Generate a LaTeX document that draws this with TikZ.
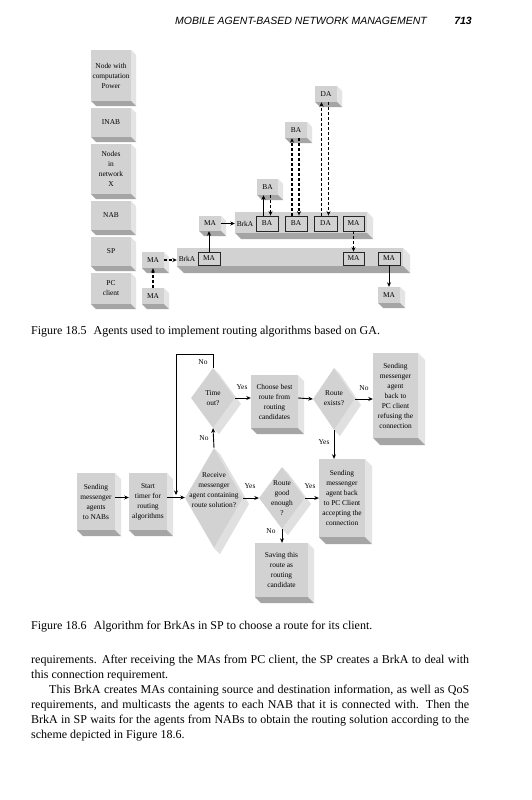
\documentclass[tikz,border=0pt]{standalone}
\usepackage{fontspec}
\setmainfont{Liberation Serif}
\setsansfont{Liberation Sans}
\usetikzlibrary{arrows.meta,shapes.geometric,calc}
\definecolor{facec}{RGB}{210,210,210}
\definecolor{sidec}{RGB}{228,228,228}
\definecolor{botc}{RGB}{165,165,165}
\definecolor{dext}{RGB}{224,224,224}
\tikzset{
  diag/.style={font=\fontsize{7.4}{10}\selectfont, align=center, inner sep=0pt},
  facen/.style={diag, fill=facec, draw=none},
  inbox/.style={diag, fill=facec, draw=black!85, line width=0.8pt},
  dia/.style={diamond, fill=facec, draw=none, inner sep=0pt, aspect=1},
  sar/.style={line width=0.9pt, -{Stealth[length=4.5pt,width=4pt]}},
  dar/.style={line width=1.1pt, dash pattern=on 3pt off 2pt, -{Stealth[length=4.5pt,width=4pt]}},
  lbl/.style={diag},
  body/.style={anchor=base west, inner sep=0pt, font=\fontsize{12}{15}\selectfont},
}
% 3D box: name, x1, y1, x2, y2, (unused), text, depth
\newcommand\namedbox[8]{%
  \fill[sidec] (#4,#3) -- ++(#8,#8) -- (#4+#8,#5+#8) -- (#4,#5) -- cycle;
  \fill[botc] (#2,#5) -- (#4,#5) -- (#4+#8,#5+#8) -- (#2+#8,#5+#8) -- cycle;
  \node[facen, minimum width={#4-#2}, minimum height={#5-#3}] (#1) at ({(#2+#4)/2},{(#3+#5)/2}) {#6#7};}
\newcommand\inb[6]{%
  \node[inbox, minimum width={#4-#2}, minimum height={#5-#3}] (#1) at ({(#2+#4)/2},{(#3+#5)/2}) {#6};}
% diamond: name, cx, cy, w, h, depth
\newcommand\dian[6]{%
  \fill[dext] (#2,#3-#5/2) -- ++(#6,#6) -- (#2+#4/2+#6,#3+#6) -- (#2+#6,#3+#5/2+#6) -- (#2,#3+#5/2) -- (#2+#4/2,#3) -- cycle;
  \node[dia, minimum width=#4, minimum height=#5] (#1) at (#2,#3) {};}
\begin{document}
\begin{tikzpicture}[x=1pt,y=-1pt]
\useasboundingbox (0,0) rectangle (531,800);
\fill[white] (0,0) rectangle (531,800);
% header
\node[anchor=base east, inner sep=0pt, font=\sffamily\itshape\fontsize{10.5}{12}\selectfont] (hdr) at (427,25) {MOBILE AGENT-BASED NETWORK MANAGEMENT};
\node[anchor=base east, inner sep=0pt, font=\sffamily\bfseries\itshape\fontsize{10.5}{12}\selectfont] (pg) at (472,25) {713};

% ---------- Figure 18.5 ----------
\namedbox{c1}{91}{50}{131}{101}{}{Node with\\computation\\Power}{5}
\namedbox{c2}{91}{108}{131}{137}{}{INAB}{5}
\namedbox{c3}{91}{144}{131}{194}{}{Nodes\\in\\network\\X}{5}
\namedbox{c4}{91}{201}{131}{230}{}{NAB}{5}
\namedbox{c5}{91}{237}{131}{266}{}{SP}{5}
\namedbox{c6}{91}{273}{131}{304}{}{PC\\client}{5}

\namedbox{masp}{142}{252}{164}{268}{}{MA}{5}
\namedbox{mapc}{142}{288}{164}{304}{}{MA}{5}
\namedbox{lbar}{177}{248}{403}{266}{}{}{7}
\namedbox{ubar}{235}{212}{367}{233}{}{}{6}
\namedbox{maup}{199}{216}{221}{231}{}{MA}{5}
\namedbox{balow}{257}{179}{278}{195}{}{BA}{5}
\namedbox{bamid}{285}{122}{307}{138}{}{BA}{5}
\namedbox{datop}{315}{86}{337}{102}{}{DA}{5}
\namedbox{maout}{378}{287}{400}{303}{}{MA}{5}

\inb{mab1}{198}{252}{220}{265}{MA}
\inb{mab2}{343}{252}{364}{265}{MA}
\inb{mab3}{378}{252}{400}{265}{MA}
\inb{bab1}{256}{216}{278}{231}{BA}
\inb{bab2}{285}{216}{307}{231}{BA}
\inb{dab}{314}{216}{337}{231}{DA}
\inb{mab4}{343}{216}{364}{231}{MA}
\node[lbl] (brk1) at (187,259) {BrkA};
\node[lbl] (brk2) at (245,224) {BrkA};

\draw[dar] (mapc.north) -- (masp.south);
\draw[dar] (masp.east) -- (masp.east -| lbar.west);
\draw[sar] (mab1.north) -- (mab1.north |- maup.south);
\draw[sar] (maup.east) -- (maup.east -| ubar.west);
\draw[sar] ([xshift=-3.5pt]bab1.north) -- ([xshift=-3.5pt]bab1.north |- balow.south);
\draw[dar] ([xshift=3.5pt]bab1.north |- balow.south) -- ([xshift=3.5pt]bab1.north);
\draw[dar] ([xshift=-4pt]bab2.north) -- ([xshift=-4pt]bab2.north |- bamid.south);
\draw[dar] ([xshift=3pt]bab2.north |- bamid.south) -- ([xshift=3pt]bab2.north);
\draw[dar] ([xshift=-4pt]dab.north) -- ([xshift=-4pt]dab.north |- datop.south);
\draw[dar] ([xshift=3pt]dab.north |- datop.south) -- ([xshift=3pt]dab.north);
\draw[dar] (mab4.south) -- (mab4.south |- mab2.north);
\draw[sar] (mab3.south) -- (mab3.south |- maout.north);

\node[body] (cap1) at (31,334) {Figure 18.5\hspace{0.6em}Agents used to implement routing algorithms based on GA.};

% ---------- Figure 18.6 ----------
\namedbox{s1}{77}{473}{115}{530}{}{Sending\\messenger\\agents\\to NABs}{6}
\namedbox{s2}{129}{473}{167}{530}{}{Start\\timer for\\routing\\algorithms}{6}
\namedbox{s3}{319}{459}{365}{537}{}{Sending\\messenger\\agent back\\to PC Client\\accepting the\\connection}{7}
\namedbox{s4}{255}{543}{308}{597}{}{Saving this\\route as\\routing\\candidate}{6}
\namedbox{s5}{251}{375}{298}{428}{}{Choose best\\route from\\routing\\candidates}{6}
\namedbox{s6}{373}{353}{418}{438}{}{Sending\\messenger\\agent\\back to\\PC client\\refusing the\\connection}{7}

\dian{d1}{214}{498}{58}{100}{6}
\dian{d2}{282}{498}{46}{62}{6}
\dian{d3}{213}{398}{44}{60}{6}
\dian{d4}{334}{399}{42}{62}{6}
\node[lbl] (t1) at (214,490) {Receive\\messenger\\agent containing\\route solution?};
\node[lbl] (t2) at (282,498) {Route\\good\\enough\\?};
\node[lbl] (t3) at (213,398) {Time\\out?};
\node[lbl] (t4) at (334,398) {Route\\exists?};

\coordinate (lp) at (176,354);
\draw[sar] ([yshift=4pt]s1.east) -- ([yshift=4pt]s1.east -| s2.west);
\draw[sar] ([yshift=4pt]s2.east) -- ([yshift=4pt]s2.east -| d1.west);
\draw[sar] (d1.east) -- (d2.west);
\draw[sar] (d2.east) -- (d2.east -| s3.west);
\draw[sar] (d2.south) -- (d2.south |- s4.north);
\draw[sar] (d1.north) -- (d3.south);
\draw[sar] (d3.east) -- (d3.east -| s5.west);
\draw[sar] (d3.east -| s5.east) -- (d4.west);
\draw[sar] (d4.east) -- (d4.east -| s6.west);
\draw[sar] (d4.south) -- (d4.south |- s3.north);
\draw[sar] (d3.north) |- (lp) -- ([yshift=3pt]lp |- d1.west);

\node[lbl] (ynA) at (250,486) {Yes};
\node[lbl] (ynB) at (310,486) {Yes};
\node[lbl] (ynC) at (271,531) {No};
\node[lbl] (ynD) at (204,438) {No};
\node[lbl] (ynE) at (242,387) {Yes};
\node[lbl] (ynF) at (364,388) {No};
\node[lbl] (ynG) at (324,442) {Yes};
\node[lbl] (ynH) at (203,362) {No};

\node[body] (cap2) at (31,629) {Figure 18.6\hspace{0.6em}Algorithm for BrkAs in SP to choose a route for its client.};

% ---------- body text ----------
\node[body] (l1) at (31,663) {\hbox to 438pt{requirements. After receiving the MAs from PC client, the SP creates a BrkA to deal with}};
\node[body] (l2) at (31,678) {this connection requirement.};
\node[body] (l3) at (49,693) {\hbox to 420pt{This BrkA creates MAs containing source and destination information, as well as QoS}};
\node[body] (l4) at (31,708) {\hbox to 438pt{requirements, and multicasts the agents to each NAB that it is connected with. Then the}};
\node[body] (l5) at (31,723) {\hbox to 438pt{BrkA in SP waits for the agents from NABs to obtain the routing solution according to the}};
\node[body] (l6) at (31,738) {scheme depicted in Figure 18.6.};
\end{tikzpicture}
\end{document}
